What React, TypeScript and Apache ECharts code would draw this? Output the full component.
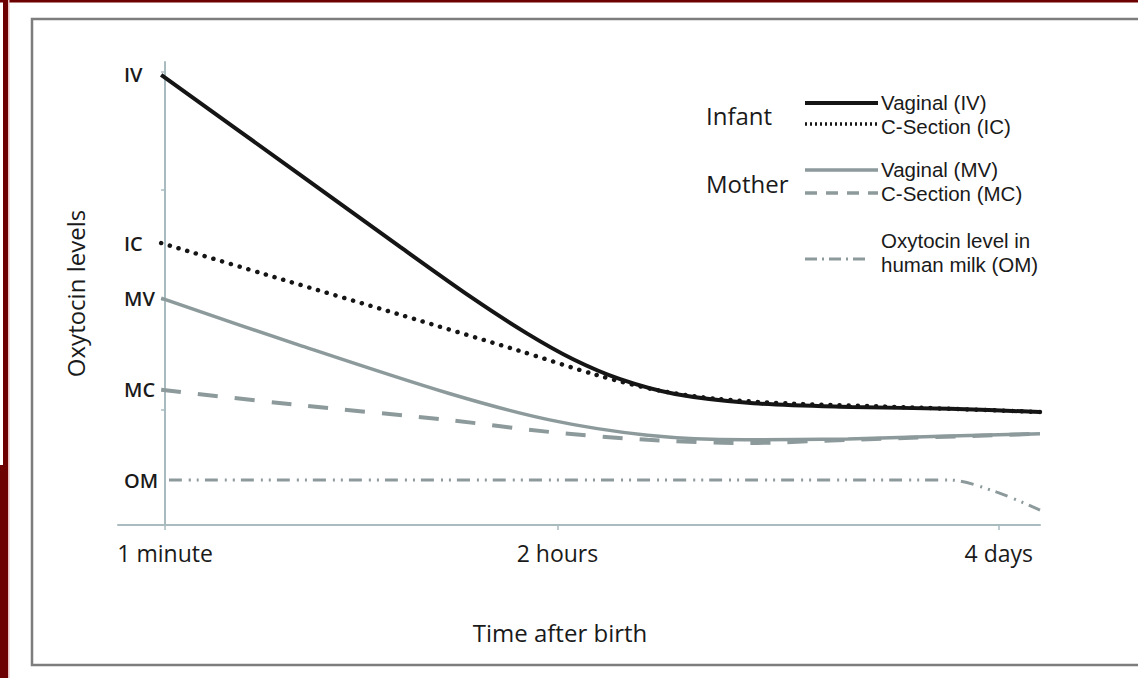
import React, { useEffect, useRef } from "react";
import * as echarts from "echarts";

// x unit: position on the time axis where "1 minute" = 0, "2 hours" = 100
const xTickValues = [0, 100, 212.5];
const xTickLabels = ["1 minute", "2 hours", "4 days"];

const ivX = [-1, 34, 60, 78, 92, 104, 116, 130, 150, 175, 200, 223];
const ivY = [97.2, 75.9, 60.0, 49.2, 41.5, 35.8, 31.5, 28.3, 26.3, 25.5, 25.1, 24.4];

const icX = [-1, 30, 60, 90, 110, 125, 140, 160, 190, 223];
const icY = [60.9, 53.0, 45.4, 37.7, 32.4, 29.2, 27.3, 26.2, 25.4, 24.4];

const mvX = [-1, 34, 72, 98, 123, 148, 174, 200, 223];
const mvY = [49.0, 38.9, 28.5, 22.7, 19.4, 18.4, 18.6, 19.2, 19.7];

const mcX = [-1, 34, 72, 98, 123, 148, 174, 223];
const mcY = [29.2, 25.9, 22.7, 20.1, 18.4, 17.7, 18.4, 19.7];

const omX = [1, 200, 212, 223];
const omY = [9.7, 9.7, 7.1, 3.2];

const yLabelValues = [97.2, 60.9, 49.0, 29.2, 9.7];
const yLabelNames = ["IV", "IC", "MV", "MC", "OM"];
const yTickValues = [24.8, 48.6, 72.4, 97.8];

const FONT = "'Open Sans', 'Noto Sans', sans-serif";
const LEG_FONT = "'Liberation Sans', Arial, sans-serif";
const DARK = "#151515";
const GRAY = "#8d9a9c";
const AXIS = "#a9bbbf";

const zip = (xs: number[], ys: number[]) => xs.map((x, i) => [x, ys[i]]);

export default function App() {
  const ref = useRef<HTMLDivElement>(null);
  useEffect(() => {
    if (!ref.current) return;
    const chart = echarts.init(ref.current, undefined, { renderer: "svg" });
    const txt = (x: number, y: number, text: string, size: number, family = FONT) => ({
      type: "text",
      x,
      y,
      style: { text, fontSize: size, lineHeight: size, fontFamily: family, fill: "#1a1a1a", verticalAlign: "middle" },
    });
    const seg = (y: number, stroke: string, w: number, dash: any, x2 = 878) => ({
      type: "line",
      shape: { x1: 805, y1: y, x2, y2: y },
      style: { stroke, lineWidth: w, lineDash: dash, lineCap: "butt" },
    });
    chart.setOption({
      animation: false,
      backgroundColor: "#ffffff",
      grid: { left: 118, right: 98, top: 62, bottom: 153, containLabel: false },
      xAxis: {
        type: "value",
        min: -12,
        max: 223,
        name: "Time after birth",
        nameLocation: "middle",
        nameGap: 95,
        nameTextStyle: { fontFamily: FONT, fontSize: 24, color: "#1a1a1a", padding: [0, 38, 0, 0] },
        splitLine: { show: false },
        axisLine: { show: true, lineStyle: { color: AXIS, width: 2 } },
        axisTick: { show: true, customValues: xTickValues, length: 5, lineStyle: { color: AXIS, width: 1.5 } },
        axisLabel: {
          customValues: xTickValues,
          formatter: (v: number) => {
            const i = xTickValues.findIndex((t) => Math.abs(t - v) < 0.01);
            return i >= 0 ? xTickLabels[i] : "";
          },
          margin: 16,
          fontFamily: FONT,
          fontSize: 23,
          color: "#1a1a1a",
        },
      },
      yAxis: {
        type: "value",
        min: 0,
        max: 100,
        name: "Oxytocin levels",
        nameLocation: "middle",
        nameGap: 31,
        nameTextStyle: { fontFamily: FONT, fontSize: 24, color: "#1a1a1a" },
        splitLine: { show: false },
        axisLine: { show: true, lineStyle: { color: AXIS, width: 2 } },
        axisTick: { show: true, customValues: yTickValues, length: 4, lineStyle: { color: AXIS, width: 1.5 } },
        axisLabel: {
          inside: true,
          customValues: yLabelValues,
          formatter: (v: number) => {
            const i = yLabelValues.findIndex((t) => Math.abs(t - v) < 0.01);
            return i >= 0 ? yLabelNames[i] : "";
          },
          margin: 6,
          fontFamily: FONT,
          fontSize: 20,
          fontWeight: 600,
          color: "#1a1a1a",
        },
      },
      series: [
        {
          name: "Vaginal (IV)", type: "line", data: zip(ivX, ivY), smooth: 0.3,
          showSymbol: false, lineStyle: { color: DARK, width: 4 }, z: 5,
        },
        {
          name: "C-Section (IC)", type: "line", data: zip(icX, icY), smooth: 0.3,
          showSymbol: false, lineStyle: { color: DARK, width: 4.5, type: [0.1, 9], cap: "round" }, z: 4,
        },
        {
          name: "Vaginal (MV)", type: "line", data: zip(mvX, mvY), smooth: 0.3,
          showSymbol: false, lineStyle: { color: GRAY, width: 3.5 }, z: 3,
        },
        {
          name: "C-Section (MC)", type: "line", data: zip(mcX, mcY), smooth: 0.3,
          showSymbol: false, lineStyle: { color: GRAY, width: 4, type: [20, 17] }, z: 2,
        },
        {
          name: "Oxytocin level in human milk (OM)", type: "line", data: zip(omX, omY), smooth: 0.3,
          showSymbol: false, lineStyle: { color: GRAY, width: 3, type: [13, 7, 2, 6, 2, 6] }, z: 1,
        },
      ],
      graphic: [
        // outer frame
        { type: "rect", shape: { x: 0, y: 0, width: 1138, height: 2.5 }, style: { fill: "#6d0000" } },
        { type: "rect", shape: { x: 3, y: 0, width: 5, height: 678 }, style: { fill: "#6d0000" } },
        { type: "rect", shape: { x: 0, y: 465, width: 8, height: 213 }, style: { fill: "#6d0000" } },
        { type: "rect", shape: { x: 8, y: 0, width: 1.5, height: 678 }, style: { fill: "#e7c3c3" } },
        { type: "rect", shape: { x: 32, y: 19, width: 1130, height: 646 }, style: { fill: "none", stroke: "#7d7d7d", lineWidth: 2.5 } },
        // legend
        txt(706, 115, "Infant", 24),
        seg(103, DARK, 4, null),
        seg(124, DARK, 3.5, [2, 3]),
        txt(881, 102, "Vaginal (IV)", 20.5, LEG_FONT),
        txt(881, 126.5, "C-Section (IC)", 20.5, LEG_FONT),
        txt(706, 183, "Mother", 24),
        seg(170, GRAY, 3.5, null),
        seg(193, GRAY, 3.5, [12, 9]),
        txt(881, 169, "Vaginal (MV)", 20.5, LEG_FONT),
        txt(881, 193, "C-Section (MC)", 20.5, LEG_FONT),
        seg(259, GRAY, 3, [12, 5, 2, 5], 870),
        txt(881, 240, "Oxytocin level in", 20.5, LEG_FONT),
        txt(881, 264, "human milk (OM)", 20.5, LEG_FONT),
      ],
    });
    return () => chart.dispose();
  }, []);
  return <div ref={ref} style={{ position: "fixed", left: 0, top: 0, width: 1138, height: 678 }} />;
}
